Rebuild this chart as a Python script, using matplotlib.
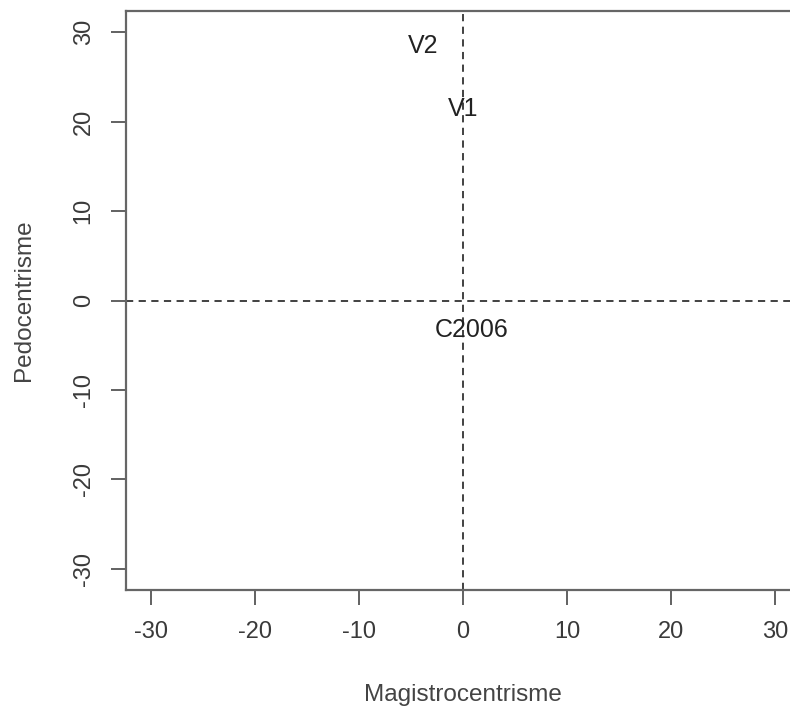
import matplotlib.pyplot as plt

labels = ["V2", "V1", "C2006"]
magistro = [-3.8, 0.0, 0.8]
pedo = [28.4, 21.4, -3.3]
ticks = [-30, -20, -10, 0, 10, 20, 30]

plt.rcParams['font.family'] = ['Liberation Sans', 'DejaVu Sans']

fig = plt.figure(figsize=(7.9, 7.08), dpi=100)
W, H = 790, 708
ax = fig.add_axes([126 / W, (H - 590) / H, (800 - 126) / W, (590 - 11) / H])

for lab, x, y in zip(labels, magistro, pedo):
    ax.text(x, y, lab, ha='center', va='center', fontsize=18, color='#222222')

ax.axhline(0, color='#333333', linestyle=(0, (4, 3)), linewidth=1.3)
ax.axvline(0, color='#333333', linestyle=(0, (4, 3)), linewidth=1.3)

ax.set_xlim(-32.4, 32.4)
ax.set_ylim(-32.35, 32.35)
ax.set_xticks(ticks)
ax.set_yticks(ticks)
ax.set_xticklabels([str(t) for t in ticks])
ax.set_yticklabels([str(t) for t in ticks], rotation=90, va='center')
ax.tick_params(length=10.5, width=1.3, colors='#555555', labelcolor='#3a3a3a',
               labelsize=17, pad=12)
for s in ax.spines.values():
    s.set_color('#666666')
    s.set_linewidth(1.6)

ax.set_xlabel('Magistrocentrisme', fontsize=17.5, color='#444444', labelpad=29)
ax.set_ylabel('Pedocentrisme', fontsize=17.5, color='#444444', labelpad=27)

fig.savefig('out.png', dpi=100)
